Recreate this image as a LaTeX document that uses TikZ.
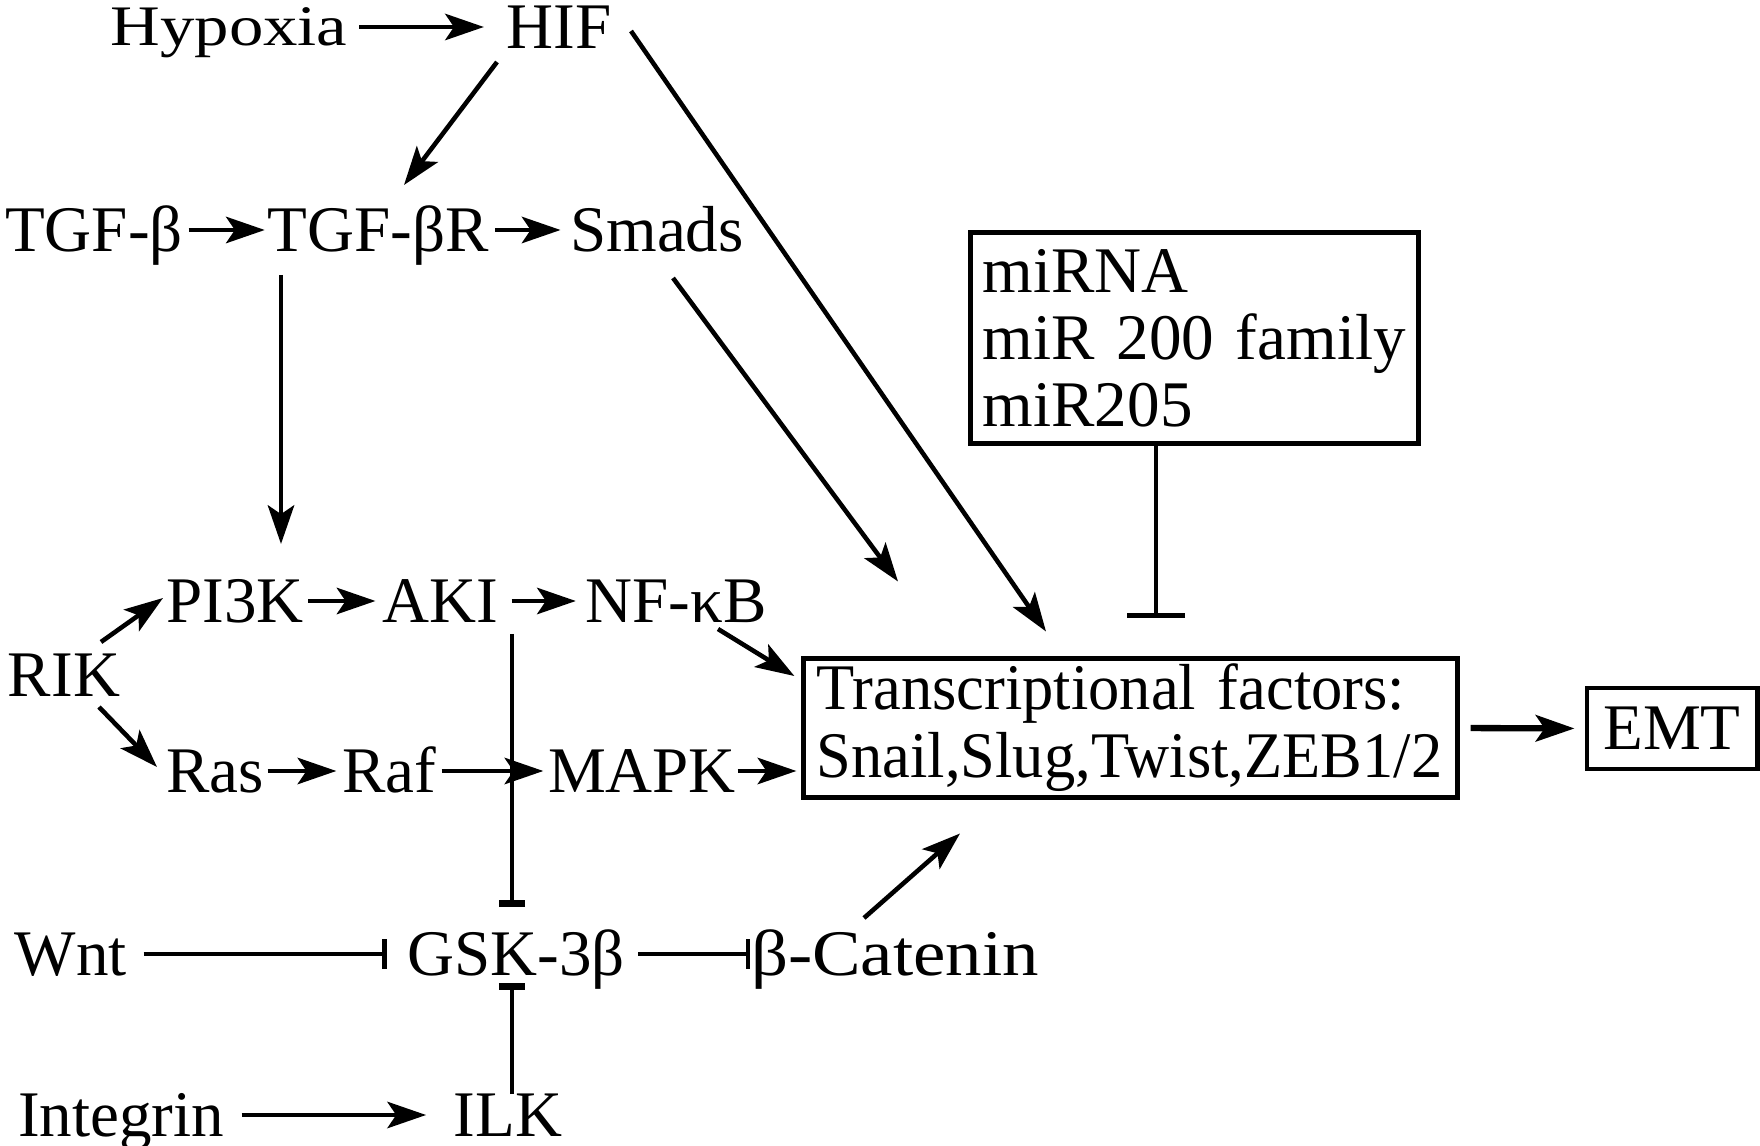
\documentclass[tikz,border=0pt]{standalone}
\usepackage{fontspec}
\setmainfont{Liberation Serif}
\newfontfamily\hypfont[FakeStretch=1.2]{Liberation Serif}
\newfontfamily\widefont[FakeStretch=1.12]{Liberation Serif}
\newfontfamily\narrowfont[FakeStretch=0.96]{Liberation Serif}
\usetikzlibrary{arrows.meta}
\begin{document}
\begin{tikzpicture}[x=0.01cm,y=-0.01cm,
  lbl/.style={inner sep=0pt, text height=12.24pt, text depth=0pt, font=\fontsize{18.5}{22}\selectfont},
  arr/.style={line width=1.3pt, -{Stealth[length=11pt,width=7.5pt,inset=2.5pt]}},
  inh/.style={line width=1.3pt, -{Bar[width=8.5pt,line width=1.3pt]}},
  inhb/.style={line width=1.3pt, -{Bar[width=7.5pt,line width=2pt]}},
  inhw/.style={line width=1.3pt, -{Bar[width=16.5pt,line width=1.6pt]}},
  box/.style={draw, line width=1.4pt, inner sep=0pt}]
\useasboundingbox (0,0) rectangle (1760,1146);
% labels
\node[lbl, font=\hypfont\fontsize{16.3}{20}\selectfont, text height=10.8pt] (hyp) at (229,27) {Hypoxia};
\node[lbl] (hif) at (559,27) {HIF};
\node[lbl] (tgfb) at (94,230) {TGF-β};
\node[lbl] (tgfbr) at (378,230) {TGF-βR};
\node[lbl] (smads) at (657,230) {Smads};
\node[lbl] (pi3k) at (235,601) {PI3K};
\node[lbl] (aki) at (440,601) {AKI};
\node[lbl] (nfkb) at (676,601) {NF-κB};
\node[lbl] (rik) at (64,675) {RIK};
\node[lbl] (ras) at (215,771) {Ras};
\node[lbl] (raf) at (389,771) {Raf};
\node[lbl] (mapk) at (642,771) {MAPK};
\node[lbl] (wnt) at (71,954) {Wnt};
\node[lbl] (gsk) at (516,954) {GSK-3β};
\node[lbl, font=\widefont\fontsize{18.5}{22}\selectfont] (bcat) at (895,954) {β-Catenin};
\node[lbl] (integrin) at (121,1115) {Integrin};
\node[lbl] (ilk) at (508,1115) {ILK};
% boxes
\node[box, minimum width=6.53cm, minimum height=1.38cm, text width=6.27cm, align=left,
      font=\narrowfont\fontsize{18.5}{19.3}\selectfont] (tf) at (1130.5,728)
      {Transcriptional factors:\\Snail,Slug,Twist,ZEB1/2};
\node[box, minimum width=1.70cm, minimum height=0.81cm, font=\fontsize{18.5}{22}\selectfont] (emt) at (1672,728.5) {EMT};
\node[box, minimum width=4.47cm, minimum height=2.10cm, text width=4.23cm, align=left,
      font=\fontsize{18.5}{19.1}\selectfont] (mir) at (1194.5,338)
      {miRNA\\miR 200 family\\miR205};
% connectors
\draw[arr, shorten <=0.11cm, shorten >=0.22cm] (hyp.east) -- (hif.west);
\draw[arr] ([shift={(-62,35)}]hif.center) -- ([shift={(26,-45)}]tgfbr.center);
\draw[arr] ([shift={(72,4)}]hif.center) -- ([shift={(-84.5,-25)}]tf.north);
\draw[arr, shorten <=0.05cm, shorten >=0.02cm] (tgfb.east) -- (tgfbr.west);
\draw[arr, shorten <=0.06cm, shorten >=0.09cm] (tgfbr.east) -- (smads.west);
\draw[arr] ([shift={(16,48)}]smads.center) -- ([shift={(-232.5,-75)}]tf.north);
\draw[arr] ([shift={(-97,45)}]tgfbr.center) -- ([shift={(46,-57)}]pi3k.center);
\draw[arr, shorten <=0.04cm, shorten >=0.06cm] (pi3k.east) -- (aki.west);
\draw[arr, shorten <=0.13cm, shorten >=0.09cm] (aki.east) -- (nfkb.west);
\draw[arr] ([shift={(42,28)}]nfkb.center) -- ([shift={(-7,-52)}]tf.west);
\draw[arr] ([shift={(37,-33)}]rik.center) -- ([shift={(-72,-3)}]pi3k.center);
\draw[arr] ([shift={(35,32)}]rik.center) -- ([shift={(-58,-4)}]ras.center);
\draw[arr, shorten <=0.03cm, shorten >=0.05cm] (ras.east) -- (raf.west);
\draw[arr, shorten <=0.05cm, shorten >=0.04cm] (raf.east) -- (mapk.west);
\draw[arr, shorten <=0.01cm, shorten >=0.05cm] (mapk.east) -- (mapk.east -| tf.west);
\draw[inhb] ([shift={(72,33)}]aki.center) -- ([shift={(-4,-47)}]gsk.center);
\draw[inh, shorten <=0.16cm, shorten >=0.2cm] (wnt.east) -- (gsk.west);
\draw[inh, shorten <=0.13cm] (gsk.east) -- (bcat.west);
\draw[arr] ([shift={(-31,-36)}]bcat.center) -- ([shift={(-170.5,34)}]tf.south);
\draw[inhb] ([shift={(4,-21)}]ilk.center) -- ([shift={(-4,29)}]gsk.center);
\draw[arr, shorten <=0.17cm, shorten >=0.27cm] (integrin.east) -- (ilk.west);
\draw[arr, line width=1.8pt, shorten <=0.11cm, shorten >=0.10cm] (tf.east) -- (emt.west);
\draw[inhw] ([shift={(-38.5,0)}]mir.south) -- ([shift={(25.5,-38)}]tf.north);
\end{tikzpicture}
\end{document}
